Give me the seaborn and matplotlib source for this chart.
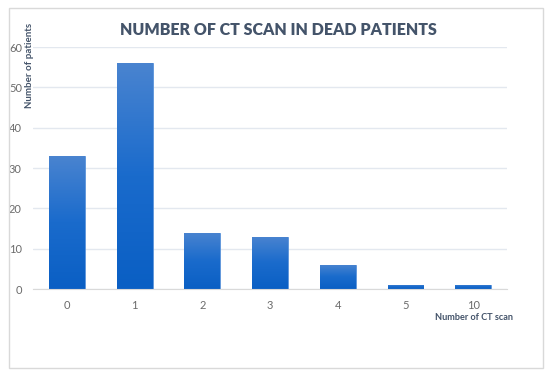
import numpy as np
import pandas as pd
import seaborn as sns
import matplotlib.pyplot as plt
from matplotlib.patches import Rectangle
from matplotlib.colors import LinearSegmentedColormap

scans = ['0', '1', '2', '3', '4', '5', '10']
patients = [33, 56, 14, 13, 6, 1, 1]

data = pd.DataFrame({'scans': scans, 'patients': patients})

sns.set_style('white')
plt.rcParams['font.family'] = ['Lato', 'DejaVu Sans']

fig = plt.figure(figsize=(5.5, 3.76), dpi=100)
ax = fig.add_axes([0.06, 0.231, 0.862, 0.644])

# outer chart border
fig.patches.append(Rectangle((9 / 550, 8 / 376), 534 / 550, 360 / 376, transform=fig.transFigure,
                             fill=False, edgecolor='#d9d9d9', lw=1.0))

sns.barplot(data=data, x='scans', y='patients', order=scans, color='#1f6fd0',
            width=0.53, ax=ax, zorder=3)

# gradient fill on each bar
cmap = LinearSegmentedColormap.from_list('bar', ['#0a5fc4', '#1a6bcc', '#4a84d0'])
grad = np.linspace(0, 1, 256).reshape(-1, 1)
for bar in ax.patches:
    x0, y0 = bar.get_x(), bar.get_y()
    w, h = bar.get_width(), bar.get_height()
    im = ax.imshow(grad, cmap=cmap, aspect='auto', origin='lower',
                   extent=[x0, x0 + w, y0, y0 + h], zorder=4)
    im.set_clip_path(bar)
    bar.set_edgecolor('#5b95dc')
    bar.set_linewidth(0.6)
ax.set_xlim(-0.5, len(scans) - 0.5)
ax.set_ylim(0, 60)
ax.set_yticks(range(0, 61, 10))

ax.grid(axis='y', color='#e3e8ef', lw=1.0, zorder=0)
sns.despine(ax=ax, left=True, right=True, top=True, bottom=False)
ax.spines['bottom'].set_color('#d9d9d9')
ax.spines['bottom'].set_zorder(5)
ax.tick_params(axis='both', length=0, labelsize=8, labelcolor='#6b6b6b')
ax.tick_params(axis='x', pad=8)
ax.tick_params(axis='y', pad=8)

ax.set_xlabel('')
ax.set_ylabel('')
fig.text(30 / 550, 1 - 23 / 376, 'Number of patients', rotation=90, ha='center', va='top',
         fontsize=7, fontweight='bold', color='#44546a')
fig.text(513 / 550, 1 - 318 / 376, 'Number of CT scan', ha='right', va='center',
         fontsize=6.6, fontweight='bold', color='#44546a')
fig.text(278 / 550, 1 - 30 / 376, 'NUMBER OF CT SCAN IN DEAD PATIENTS', ha='center', va='center',
         fontsize=11.5, fontweight='heavy', color='#44546a')

fig.savefig('out.png', dpi=100)
